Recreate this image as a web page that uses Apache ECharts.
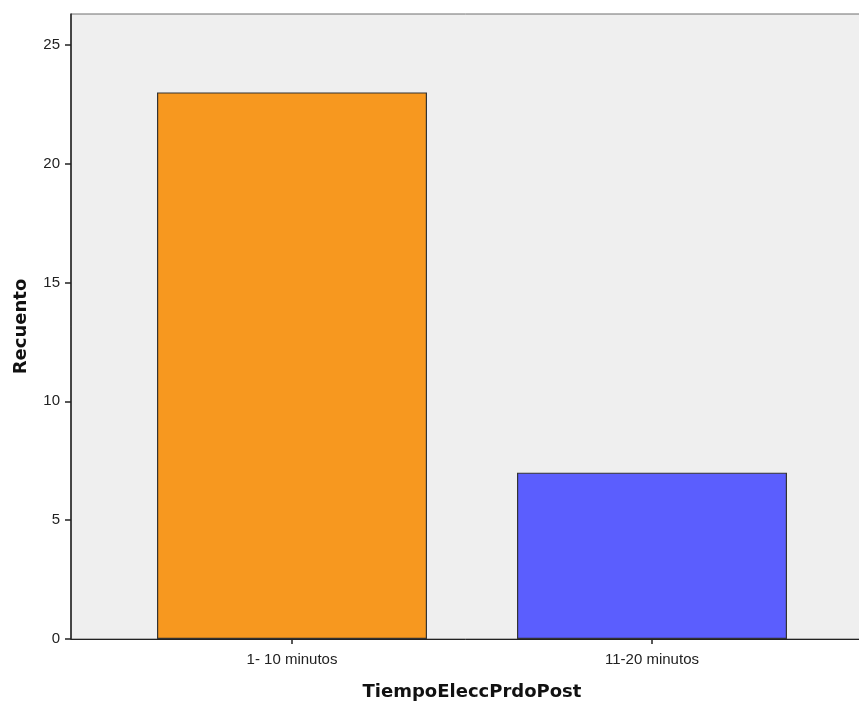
<!DOCTYPE html>
<html>
<head>
<meta charset="utf-8">
<script src="https://cdn.jsdelivr.net/npm/echarts@6/dist/echarts.min.js"></script>
<style>
html,body{margin:0;padding:0;background:#fff;}
#chart{width:859px;height:702px;}
</style>
</head>
<body>
<div id="chart"></div>
<script>
const categories = ['1- 10 minutos', '11-20 minutos'];
const counts = [23, 7];
const yTicks = [0, 5, 10, 15, 20, 25];
const yMax = 26.3;
const xTitle = 'TiempoEleccPrdoPost';
const yTitle = 'Recuento';

const barColors = ['#F7981F', '#5B5EFE'];

const chart = echarts.init(document.getElementById('chart'));
chart.setOption({
  animation: false,
  backgroundColor: '#ffffff',
  grid: [
    {left: 71, top: 14, width: 802, height: 625, show: true, outerBoundsMode: 'none', containLabel: false,
     backgroundColor: '#efefef', borderColor: '#6f6f6f', borderWidth: 1},
    {left: 112, top: 14, width: 720, height: 625, outerBoundsMode: 'none', containLabel: false}
  ],
  xAxis: [
    {gridIndex: 0, type: 'value', min: 0, max: 1,
     axisLine: {show: true, onZero: false, lineStyle: {color: '#222', width: 1}},
     axisTick: {show: false}, axisLabel: {show: false}, splitLine: {show: false}},
    {gridIndex: 1, type: 'category', data: categories,
     axisLine: {show: false},
     axisTick: {show: true, alignWithLabel: true, length: 5, lineStyle: {color: '#222', width: 1.5}},
     axisLabel: {margin: 13, fontFamily: 'Liberation Sans', fontSize: 15, color: '#222'},
     name: xTitle, nameLocation: 'middle', nameGap: 44,
     nameTextStyle: {fontFamily: 'DejaVu Sans', fontWeight: 'bold', fontSize: 18, color: '#111'}}
  ],
  yAxis: [
    {gridIndex: 0, type: 'value', min: 0, max: yMax,
     axisLine: {show: true, lineStyle: {color: '#222', width: 1.5}},
     axisTick: {show: true, length: 6, customValues: yTicks, lineStyle: {color: '#222', width: 1.5}},
     axisLabel: {margin: 11, customValues: yTicks, fontFamily: 'Liberation Sans', fontSize: 15, color: '#222'},
     splitLine: {show: false},
     name: yTitle, nameLocation: 'middle', nameGap: 41,
     nameTextStyle: {fontFamily: 'DejaVu Sans', fontWeight: 'bold', fontSize: 18, color: '#111'}},
    {gridIndex: 1, type: 'value', min: 0, max: yMax, show: false}
  ],
  series: [{
    type: 'bar',
    xAxisIndex: 1, yAxisIndex: 1,
    barWidth: '75%',
    data: counts.map((v, i) => ({value: v, itemStyle: {color: barColors[i]}})),
    itemStyle: {borderColor: '#333', borderWidth: 1.2}
  }]
});
</script>
</body>
</html>
